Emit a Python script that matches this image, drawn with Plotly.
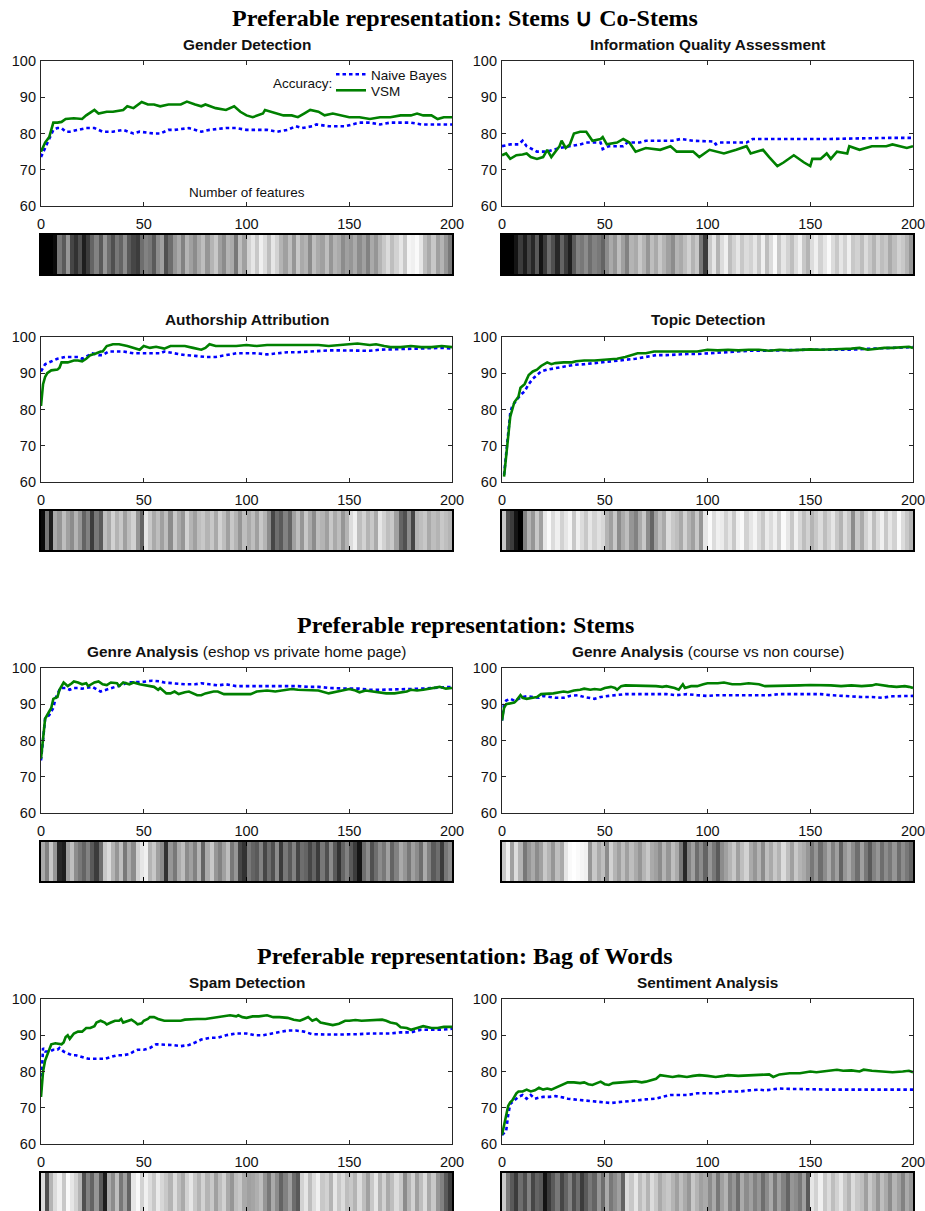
import plotly.graph_objects as go

# ---------------- data ----------------
section_titles = ["Preferable representation: Stems \u222a Co-Stems",
                  "Preferable representation: Stems",
                  "Preferable representation: Bag of Words"]
panel_titles = ["<b>Gender Detection</b>", "<b>Information Quality Assessment</b>",
                "<b>Authorship Attribution</b>", "<b>Topic Detection</b>",
                "<b>Genre Analysis</b> (eshop vs private home page)",
                "<b>Genre Analysis</b> (course vs non course)",
                "<b>Spam Detection</b>", "<b>Sentiment Analysis</b>"]
x_ticks = [0, 50, 100, 150, 200]
y_ticks = [60, 70, 80, 90, 100]
series_names = ["Naive Bayes", "VSM"]

gender_vsm_x = [0,2,4,6,8,10,12,16,20,22,26,28,32,35,40,42,45,49,52,55,58,62,68,71,75,78,80,85,90,94,97,100,103,108,109,112,118,122,125,128,131,135,138,142,150,155,160,165,170,175,180,183,186,190,193,196,200]
gender_vsm_y = [75,77.5,79,83,83,83.2,84,84.2,84,85,86.5,85.5,86,86,86.5,87.5,87,88.7,88,88,87.5,88,88,88.8,88,87.5,88,87,86.5,87.5,86,85,84.5,85.5,86.5,86,85,85,84.5,85.5,86.5,86,85,85.5,84.5,84.5,84,84.5,84.5,85,85,85.5,85,85,84,84.5,84.5]
gender_nb_x = [0,2,4,6,8,10,12,14,18,22,26,30,35,40,45,48,55,58,62,65,72,78,82,90,95,100,105,110,115,120,124,127,132,134,140,148,155,160,165,170,180,185,190,200]
gender_nb_y = [73.5,76,78,81,81.5,81.5,80.5,80.5,81,81.5,81.5,80.5,80.5,81,80,80.5,80,80,81,81,81.5,80.5,81,81.5,81.5,81,81,81,80.5,81,82,81.5,82,82.5,82,82,83,83,82.5,83,83,82.5,82.5,82.5]

iqa_vsm_x = [0,2,4,7,10,12,14,17,20,22,24,26,28,29,31,33,35,38,41,44,48,49,51,56,59,62,65,70,77,82,85,93,96,101,108,114,119,121,127,130,134,137,142,147,150,151,155,158,160,163,168,169,174,180,187,190,197,200]
iqa_vsm_y = [74,74.5,73,74,74.2,74.5,73.5,73,73.5,75.5,73.5,75,76.5,78,76,77,80,80.5,80.5,78,78.5,79,77,77.5,78.5,77.5,75,76,75.5,76.5,75,75,73.5,75.5,74.5,75.5,76.5,74.5,75.5,73.5,71,72,74,72,71,73,73,74.5,73,75,74.5,76.5,75.5,76.5,76.5,77,76,76.5]
iqa_nb_x = [0,4,8,10,12,17,22,28,38,41,48,49,52,59,61,67,70,83,87,93,103,104,106,119,122,129,160,189,200]
iqa_nb_y = [76.5,77,77,78,76.5,75,75,76,77,77.5,77.5,75.7,76.5,76.5,77.5,77.5,78,78,78.5,78,77.8,77,77.5,77.5,78.5,78.5,78.5,78.8,78.8]

auth_vsm_x = [0,1,2,3,5,8,9,10,13,16,18,20,22,24,27,29,30,32,35,38,42,45,48,50,53,56,60,63,67,70,74,78,80,82,85,90,95,100,105,110,115,120,125,130,135,140,145,150,154,160,163,167,170,175,180,185,190,195,200]
auth_vsm_y = [81,87,89,90,90.8,91,91.5,93,93,93.5,93.5,93.3,94,95,95.5,96,96,97.5,98,98,97.5,97,96.5,97.5,97,97.3,96.8,97.5,97.5,97.5,97,96.5,97,98,97.5,97.5,97.5,97.8,97.5,97.8,97.8,97.8,98,98,97.8,97.5,97.8,98,98.2,97.8,98,97.5,97.2,97.2,97.5,97.2,97.2,97.5,97.2]
auth_nb_x = [0,2,4,6,8,12,15,18,20,23,25,28,30,33,36,40,45,50,55,58,60,65,70,75,80,85,90,95,100,105,110,115,120,125,130,135,140,145,150,155,160,165,170,175,180,185,190,195,200]
auth_nb_y = [90.5,92.5,93,93.5,94,94.5,94.5,94.5,94,95,95.5,95,95,96,96,96,95.5,95.5,95.5,95.5,96,95.5,95,94.8,94.5,94.5,95,95.5,95.5,95.5,95.2,95.5,95.8,95.8,96,96,96.3,96.3,96.3,96.3,96.2,96.5,96.6,96.6,96.8,97,97,97,96.8]

topic_vsm_x = [1,3,4,5,6,8,9,11,13,15,17,19,22,24,26,30,34,36,40,45,50,53,56,60,63,66,70,74,78,80,85,90,95,100,105,110,115,120,125,130,135,140,145,150,155,160,165,170,174,178,182,186,190,195,198,200]
topic_vsm_y = [61.5,72,78,80,82,83.5,86,87,89.5,90.5,91,92,93,92.5,92.8,93,93,93.3,93.5,93.5,93.8,94,94,94.5,95,95.5,95.5,96,96,96,96,96,96,96.5,96.3,96.5,96.3,96.5,96.5,96.2,96.5,96.3,96.5,96.6,96.5,96.5,96.7,96.8,97,96.5,96.8,97,97,97.2,97.3,97]
topic_nb_x = [1,3,4,5,7,9,11,13,15,17,19,22,25,28,31,35,40,45,50,55,60,65,70,75,80,85,90,95,100,105,110,115,120,125,130,140,150,160,170,180,190,197,200]
topic_nb_y = [62,73,79,81,82.5,84,85,87,88.5,89.5,90.5,91,91.3,91.5,92,92.3,92.5,92.8,93,93.2,93.5,94,94.5,95,95,95.2,95.3,95.3,95.5,95.8,95.8,96,96.2,96.2,96.3,96.3,96.5,96.5,96.5,96.8,97,97.3,97.2]

eshop_vsm_x = [0,1,2,4,5,6,8,9,10,11,12,13,15,16,18,20,22,23,26,28,30,32,34,37,38,40,43,45,48,50,53,55,57,58,61,63,65,67,70,72,76,78,80,84,86,89,92,95,98,102,105,110,114,118,122,125,130,135,140,143,147,150,153,155,158,162,165,168,172,175,178,180,183,186,190,194,197,200]
eshop_vsm_y = [75,80,86,88,89,91.5,92,94,95,96,95.5,95,95.8,96.3,96,95.5,95.8,95,96,96.3,95.5,95.3,96,95.8,95,96,95.5,96,95.5,95.3,95,94.8,94,94.5,93,93,93.5,92.8,93.3,93.5,92.5,92.5,93,93.5,93.5,92.8,92.8,92.8,93,92.8,93.5,93.8,93.5,93.8,94.2,94,93.8,93.8,93,93.3,93.8,94.2,93.8,93.3,93.8,93.5,93.2,93,93,93.2,93.5,94,93.8,94,94.3,94.8,94.3,94.5]
eshop_nb_x = [0,1,2,4,5,6,7,8,9,10,12,14,16,18,20,22,25,29,32,35,38,40,42,45,48,50,54,56,58,60,63,66,70,75,78,82,86,90,95,100,105,110,115,120,125,130,135,140,145,150,155,160,165,170,175,180,185,190,195,200]
eshop_nb_y = [74.5,80,86,87,88,89,91.5,93,94,94.5,94.5,94,94.5,94.5,94.3,94.5,94.8,93.5,94,94.5,95,95.5,96,96,96,96.2,96.5,96.5,96.3,96,95.8,95.8,95.5,95.5,95.8,95.5,95.2,95.5,95,95,95,95.2,95.2,95,95,94.8,94.8,94.5,94.3,94.3,94.3,94,94,94,94,94.2,94.3,94.5,94.8,94.8]

course_vsm_x = [0,1,2,4,6,7,9,10,12,15,17,19,22,25,28,30,32,35,38,40,43,45,48,50,53,55,56,58,60,65,68,72,75,78,80,84,86,88,89,92,95,98,100,105,108,112,116,120,125,128,132,136,140,145,150,155,160,165,170,175,180,182,185,188,192,196,198,200]
course_vsm_y = [85.5,89,90,90.3,90.5,91,92.5,91.8,91.5,91.8,92,92.8,92.8,93,93.3,93.5,93.3,93.8,94,94.3,94,94.2,94,94.5,94.8,94.5,94,95,95.2,95.2,95,95,95,94.8,95,94.5,94,95.5,94.5,95,95,95.5,95.8,95.8,96,95.5,95.5,95.8,95.5,95,95,95.2,95.2,95.2,95.3,95.3,95.2,95,95.2,95,95.2,95.5,95.2,95,94.8,95,94.8,94.5]
course_nb_x = [0,1,2,4,6,8,10,12,15,18,20,23,26,30,33,37,40,45,48,52,55,60,65,70,75,80,85,90,95,100,105,110,115,120,125,130,135,140,145,150,155,160,165,170,175,180,185,190,195,200]
course_nb_y = [85.5,90,91,91.5,91,91.5,92,92.2,92,91.8,92.3,92,91.8,91.8,92.3,92.5,92,91.5,92,92.3,92.5,92.8,92.8,92.8,92.8,92.8,92.5,92.8,92.5,92.3,92.5,92.5,92.5,92.3,92.3,92.5,92.8,92.8,93,92.8,92.8,92.5,92.3,92,92,92,91.8,92.2,92.3,92.3]

spam_vsm_x = [0,1,2,3,4,5,7,10,11,12,13,14,16,18,20,22,24,26,27,29,31,32,34,36,38,39,40,42,44,46,47,49,50,52,53,55,57,60,64,68,70,73,76,80,84,88,92,95,96,98,100,103,106,110,113,116,120,123,126,128,130,132,134,136,139,142,145,148,150,153,156,160,163,166,168,170,173,175,178,180,183,186,190,193,196,200]
spam_vsm_y = [73,80,83,84.5,86,87.5,87.8,87.5,88,89.5,90,89,90.5,91,91,92,92,92.5,93.5,94,93.5,93,93.5,94,94,94.5,93.5,94,94.3,93.5,93,93.3,94,94.5,95,95,94.5,94,94,94,94.3,94.5,94.5,94.5,94.8,95,95.5,95.2,95.5,95,94.8,95.2,95.2,95.5,95,95,94.8,94.3,94,94.5,95,94,94.5,93.5,93.2,92.8,93.2,94,94,94.2,94,94.2,94.3,94.3,94,93.5,93.2,92.2,92,91.5,92,92.5,92,92,92.3,92.3]
spam_nb_x = [0,1,2,4,6,8,9,11,13,15,17,20,23,26,29,31,34,37,40,43,45,47,50,53,56,60,64,68,72,75,78,82,86,90,95,100,104,108,112,116,120,124,128,132,136,140,145,150,155,160,165,170,175,180,185,190,195,200]
spam_nb_y = [75,86.5,85.5,85.5,86,86,86.5,85.5,85,84.5,84.5,84,83.5,83.5,83.5,83.5,84,84.5,84.5,84.8,85.5,86,86,86.5,87.5,87.5,87.3,87,87.3,88,88.8,89.3,89.3,90,90.5,90.5,90,90,90.5,90.8,91.3,91.3,91,90.3,90.2,90.2,90.2,90.2,90.3,90.5,90.5,90.5,90.8,90.8,91.5,91.5,91.5,91.8]

sent_vsm_x = [0,1,2,3,4,5,6,7,8,10,12,14,16,18,20,22,24,26,28,30,32,35,38,40,42,44,46,48,50,52,54,57,60,63,65,68,70,73,75,77,80,83,86,90,93,96,100,104,108,110,115,120,125,130,132,135,140,145,150,153,156,160,163,166,170,174,176,180,185,190,195,198,200]
sent_vsm_y = [62.5,65,68,70.5,71.5,72,73,74,74.5,74.5,75,74.5,74.8,75.5,75,75.3,75,75.5,76,76.5,77,77,76.8,77,76.5,76.3,76.8,77.2,76.5,76.3,76.8,77,77,77.2,77.3,77,77.2,77.8,78,79,78.8,78.5,78.8,78.5,78.8,79,78.8,78.5,78.8,79,78.8,79,79,79.2,78.5,79.2,79.5,79.5,80,79.8,80,80.3,80.5,80.2,80.3,80,80.5,80.2,80,79.8,80,80.2,79.8]
sent_nb_x = [0,2,3,4,6,8,10,12,14,16,18,20,23,26,30,32,35,40,45,50,53,56,60,65,70,75,78,82,86,90,95,100,105,108,112,116,120,125,128,130,135,140,150,160,170,180,190,200]
sent_nb_y = [62.5,63.5,68,71,72,73,73.5,72.5,73.5,72.5,72.8,73,73,73.2,72.8,72.5,72.3,72,71.8,71.5,71.3,71.5,71.8,72,72.3,72.5,73,73.5,73.5,73.5,74,74,74,74.5,74.5,74.5,74.8,75,74.8,75,75.3,75.2,75,75,75,75,75,75]

# feature-weight barcodes: gray level (0 black .. 255 white) per pair of features
gender_bar = [0,0,0,10,120,90,150,70,50,80,30,60,100,130,90,150,110,80,120,100,140,90,70,60,110,130,
              120,90,140,160,80,110,150,170,130,180,160,140,170,190,150,180,200,160,140,180,170,120,190,160,
              210,230,200,240,220,190,230,210,180,160,190,150,200,170,180,140,190,170,160,190,150,180,170,140,160,
              150,170,140,160,130,170,150,180,200,220,190,210,230,200,245,240,250,230,190,170,200,160,180,150,120]
iqa_bar = [0,0,0,20,60,30,70,40,90,20,60,110,80,40,100,60,30,90,130,120,140,110,130,120,100,
           140,170,150,190,160,130,180,170,200,180,150,190,170,200,180,160,140,180,170,190,210,180,200,120,60,
           200,230,180,220,240,190,210,230,200,220,210,230,200,240,190,220,250,200,230,210,190,220,240,200,180,
           220,240,210,230,250,220,200,230,210,240,200,210,190,220,200,180,210,190,200,170,190,210,200,180,150]
auth_bar = [10,120,30,170,150,190,160,140,180,150,100,130,60,120,90,190,170,210,180,200,160,190,210,150,100,
            230,200,170,190,160,190,140,200,170,150,210,180,160,190,200,180,200,170,210,190,160,200,180,150,190,
            170,190,160,200,180,140,70,110,90,130,100,160,190,150,200,170,140,190,180,160,200,170,190,150,180,
            220,240,190,210,180,200,170,230,210,190,200,160,100,80,140,70,180,190,200,170,190,180,200,190,180]
topic_bar = [200,80,60,20,0,130,180,150,200,160,230,250,220,240,210,230,245,200,240,220,200,230,210,225,215,
             180,160,200,140,170,190,150,130,170,200,140,100,160,190,170,220,200,190,170,210,180,160,200,150,
             230,250,220,240,235,210,230,200,240,250,210,230,245,220,200,235,220,240,210,250,230,200,240,215,190,210,
             180,200,220,190,210,230,200,180,220,200,140,200,170,210,230,190,220,240,200,230,210,250,220,200,180]
eshop_bar = [170,130,200,150,40,30,160,190,140,120,100,130,90,60,110,200,220,180,150,190,120,170,140,
             210,230,240,180,200,160,140,50,150,120,170,190,140,160,130,180,100,170,200,150,130,160,190,120,150,70,
             50,120,100,90,130,70,110,80,140,60,120,90,130,70,110,100,70,100,60,120,80,140,90,50,
             100,130,90,60,20,110,140,80,110,140,120,160,100,130,170,150,120,160,140,110,170,130,90,110,60,120,140]
course_bar = [200,240,160,220,180,120,150,170,140,160,200,180,150,190,170,230,250,255,250,245,240,
              150,200,170,190,140,210,180,160,190,160,190,170,150,180,200,170,160,140,180,150,190,170,120,40,
              130,160,110,140,100,150,120,90,140,160,180,200,160,190,210,170,150,180,140,190,
              170,200,180,220,190,160,200,180,170,150,120,150,110,140,170,130,160,100,150,170,
              140,110,160,120,90,130,150,110,140,120,150,110,140,120,100]
spam_bar = [220,80,180,220,240,200,250,230,210,180,80,130,100,150,90,30,170,140,190,120,160,100,
            230,250,210,240,220,200,235,215,200,180,220,190,170,210,230,200,180,210,180,200,160,190,210,170,150,190,200,
            170,160,165,175,190,150,120,170,140,100,130,160,110,90,210,230,190,220,240,200,210,180,230,200,220,190,
            200,180,220,190,160,200,230,180,210,170,190,220,200,140,180,210,160,190,220,170,200,150,130,90,60]
sent_bar = [200,120,90,60,110,80,130,70,100,90,20,60,90,120,70,100,130,80,110,60,90,120,100,
            150,110,170,120,140,160,100,220,200,230,190,210,180,220,200,170,190,200,180,160,190,170,150,200,180,160,170,
            140,170,120,160,180,130,150,110,170,140,160,130,150,110,140,170,120,160,130,100,150,140,120,160,90,
            230,210,240,200,220,190,210,230,200,180,220,200,190,160,200,180,150,190,170,140,180,160,130,170,150]

panels = [
    (gender_nb_x, gender_nb_y, gender_vsm_x, gender_vsm_y, gender_bar),
    (iqa_nb_x, iqa_nb_y, iqa_vsm_x, iqa_vsm_y, iqa_bar),
    (auth_nb_x, auth_nb_y, auth_vsm_x, auth_vsm_y, auth_bar),
    (topic_nb_x, topic_nb_y, topic_vsm_x, topic_vsm_y, topic_bar),
    (eshop_nb_x, eshop_nb_y, eshop_vsm_x, eshop_vsm_y, eshop_bar),
    (course_nb_x, course_nb_y, course_vsm_x, course_vsm_y, course_bar),
    (spam_nb_x, spam_nb_y, spam_vsm_x, spam_vsm_y, spam_bar),
    (sent_nb_x, sent_nb_y, sent_vsm_x, sent_vsm_y, sent_bar),
]

# ---------------- layout geometry (page pixels) ----------------
W, H = 925, 1211
COLS = [(41, 452), (502, 913)]
ROW_TOPS = [61, 337, 668, 999]
PLOT_H = 145
BAR_OFF, BAR_H = 174, 39
SANS = "Liberation Sans, Arial, Helvetica, sans-serif"
SERIF = "Liberation Serif, Times New Roman, serif"
AX = "#262626"

def fx(px):
    return px / W

def fy(py):
    return max(0.0, min(1.0, 1 - py / H))

fig = go.Figure()
layout = {}
annotations = []

for i, (nbx, nby, vx, vy, bar) in enumerate(panels):
    assert len(nbx) == len(nby) and len(vx) == len(vy) and len(bar) == 100, i
    row, col = divmod(i, 2)
    x0, x1 = COLS[col]
    top = ROW_TOPS[row]
    la, ba = 2 * i + 1, 2 * i + 2
    xr, yr = f"x{la}", f"y{la}"
    xb, yb = f"x{ba}", f"y{ba}"

    fig.add_trace(go.Scatter(x=nbx, y=nby, mode="lines", name=series_names[0],
                             line=dict(color="#0000ff", width=2.6, dash="3.5px,3px"),
                             xaxis=xr, yaxis=yr, showlegend=(i == 0), legend="legend"))
    fig.add_trace(go.Scatter(x=vx, y=vy, mode="lines", name=series_names[1],
                             line=dict(color="#008000", width=2.6),
                             xaxis=xr, yaxis=yr, showlegend=(i == 0), legend="legend2"))
    fig.add_trace(go.Heatmap(z=[bar], x0=1, dx=2, y0=0.5, dy=1,
                             colorscale=[[0, "#000000"], [1, "#ffffff"]], zmin=0, zmax=255,
                             showscale=False, hoverinfo="skip", xaxis=xb, yaxis=yb))

    common = dict(showgrid=False, zeroline=False, showline=True, linecolor=AX, linewidth=1.2,
                  ticks="inside", ticklen=4, tickcolor=AX, tickwidth=1, mirror="ticks",
                  automargin=False, ticklabeloverflow="allow",
                  tickfont=dict(family=SANS, size=14.5, color="#111"))
    layout[f"xaxis{la}"] = dict(common, domain=[fx(x0), fx(x1)], range=[0, 200], tickvals=x_ticks,
                                anchor=yr, ticklabelstandoff=4)
    layout[f"yaxis{la}"] = dict(common, domain=[fy(top + PLOT_H), fy(top)], range=[60, 100],
                                tickvals=y_ticks, anchor=xr, ticklabelstandoff=1)
    layout[f"xaxis{ba}"] = dict(showgrid=False, zeroline=False, showline=True, linecolor="#000",
                                linewidth=1.5, ticks="inside", ticklen=4, tickcolor="#000",
                                mirror="ticks", automargin=False, domain=[fx(x0), fx(x1)],
                                range=[0, 200], tickvals=[50, 100, 150], showticklabels=False,
                                anchor=yb)
    layout[f"yaxis{ba}"] = dict(showgrid=False, zeroline=False, showline=True, linecolor="#000",
                                linewidth=1.5, mirror=True, ticks="", showticklabels=False,
                                automargin=False,
                                domain=[fy(top + BAR_OFF + BAR_H), fy(top + BAR_OFF)], range=[0, 1],
                                anchor=xb)
    annotations.append(dict(text=panel_titles[i], x=fx((x0 + x1) / 2), y=fy(top - 17),
                            xref="paper", yref="paper", showarrow=False, xanchor="center",
                            yanchor="middle", font=dict(family=SANS, size=15.4, color="#111")))

for txt, py in zip(section_titles, [18, 625, 956]):
    annotations.append(dict(text=f"<b>{txt}</b>", x=fx(465), y=fy(py), xref="paper", yref="paper",
                            showarrow=False, xanchor="center", yanchor="middle",
                            font=dict(family=SERIF, size=24, color="#000")))

annotations.append(dict(text="Accuracy:", x=fx(334), y=fy(83), xref="paper", yref="paper",
                        showarrow=False, xanchor="right", yanchor="middle",
                        font=dict(family=SANS, size=13.5, color="#111")))
annotations.append(dict(text="Number of features", x=fx(247), y=fy(192), xref="paper", yref="paper",
                        showarrow=False, xanchor="center", yanchor="middle",
                        font=dict(family=SANS, size=13.5, color="#111")))

legend_common = dict(xanchor="left", yanchor="top", bgcolor="rgba(0,0,0,0)",
                     font=dict(family=SANS, size=13.5, color="#111"), itemwidth=30)

fig.update_layout(
    width=W, height=H, margin=dict(l=0, r=0, t=0, b=0, autoexpand=False),
    paper_bgcolor="white", plot_bgcolor="white",
    showlegend=True,
    legend=dict(legend_common, x=fx(331), y=fy(59)),
    legend2=dict(legend_common, x=fx(331), y=fy(75)),
    annotations=annotations,
    **layout,
)

fig.write_html(
    "out.html",
    config={"displayModeBar": False},
    post_script="document.body.style.margin='0';document.body.style.overflow='hidden';"
                "document.documentElement.style.overflow='hidden';",
)
